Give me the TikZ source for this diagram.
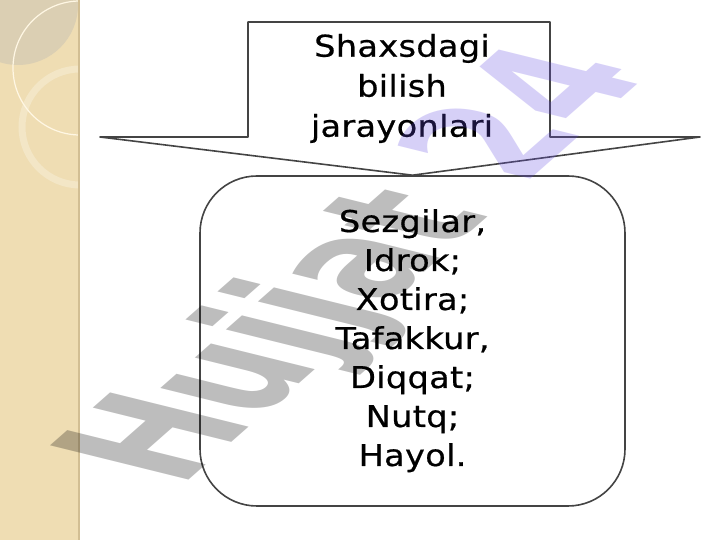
\documentclass[tikz,border=0pt]{standalone}
\usepackage{fontspec}
\setmainfont{DejaVu Sans}
\newfontfamily\slidefont[FakeStretch=1.12,LetterSpace=1,FakeBold=0.6]{DejaVu Sans}
\newfontfamily\markfont{DejaVu Sans Bold}
\usepackage{xcolor}
\definecolor{strip}{HTML}{EFDDB3}
\definecolor{stripdark}{HTML}{DBCFB3}
\definecolor{stripring}{HTML}{F3E6C6}
\definecolor{stripedge}{HTML}{D2BE93}
\definecolor{cream}{HTML}{FFF7E4}
\definecolor{boxgray}{HTML}{444444}
\definecolor{markviolet}{rgb}{0.39,0.29,0.89}
\usepackage{tikz}

\begin{document}
\begin{tikzpicture}[x=1pt,y=1pt,
	line/.style={draw=boxgray,line width=1.6pt,line join=round},
	word/.style={font=\slidefont\fontsize{30}{36}\selectfont,anchor=base,inner sep=0pt}]
	\useasboundingbox (0,0) rectangle (720,540);
	\fill[white] (0,0) rectangle (720,540);

	% left strip of the slide
	\begin{scope}
		\clip (0,0) rectangle (78,540);
		\fill[strip] (0,0) rectangle (78,540);
		\fill[stripdark] (18,535) circle (60);
		\draw[stripring,line width=7pt] (80,413) circle (58);
		\draw[cream,line width=1.2pt] (80,472) circle (67);
	\end{scope}
	\draw[stripedge,line width=2.5pt] (79,0) -- (79,540);

	\node[line,rounded corners=57pt,minimum width=425pt,minimum height=330pt] (box) at (412.5,199) {};
	\draw[line] (box.north) -- (100,403) -- (248,403) -- (248,518)
		-- (550,518) -- (550,403) -- (700,403) -- cycle;

	\foreach \w [count=\i] in {Shaxsdagi,bilish,jarayonlari}
		\node[word] (title\i) at (402,523.3-40*\i) {\w};

	\foreach \w [count=\i] in {{Sezgilar,},Idrok;,Xotira;,{Tafakkur,},Diqqat;,Nutq;,Hayol.}
		\node[word] (item\i) at (412.5,347-39*\i) {\w};

	% watermark
	\node[cm={0.92,0.81,-1.9,0.47,(180,52)},transform shape,anchor=base west,
		inner sep=0pt,text=black,text opacity=0.26,
		font=\markfont\fontsize{100}{100}\selectfont] (mark) at (0,0)
		{Hujjat \textcolor{markviolet}{24}};
\end{tikzpicture}
\end{document}
